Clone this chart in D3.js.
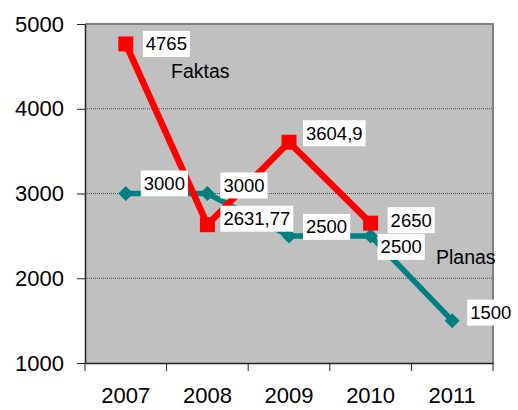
<!DOCTYPE html>
<html>
<head>
<meta charset="utf-8">
<script src="https://cdn.jsdelivr.net/npm/d3@7"></script>
<style>
  html, body { margin: 0; padding: 0; background: #fff; }
  svg { display: block; font-family: "Liberation Sans", Arial, sans-serif; }
</style>
</head>
<body>
<svg id="chart" width="518" height="410"></svg>
<script>
// Years on the x axis
const years = ["2007", "2008", "2009", "2010", "2011"];
// Actual values (Faktas) – no value yet for 2011
const faktas = [4765, 2631.77, 3604.9, 2650, null];
// Planned values (Planas)
const planas = [3000, 3000, 2500, 2500, 1500];
// Y axis ticks
const yTicks = [1000, 2000, 3000, 4000, 5000];

// Label placement relative to each point (dx, dy of the label's left-middle)
const faktasLabelOffset = [[17, 0], [13, -6], [14, -9], [17, -3], null];
const planasLabelOffset = [[15, -10], [13, -8], [14, -9], [7, 11], [15, -8]];

const fmt = v => String(v).replace(".", ",");

const svg = d3.select("#chart");
const plot = { left: 85, right: 493, top: 24, bottom: 363 };

const x = d3.scaleBand().domain(years).range([plot.left, plot.right]);
const y = d3.scaleLinear().domain([1000, 5000]).range([plot.bottom, plot.top]);
const cx = d => x(d) + x.bandwidth() / 2;

// Plot background
svg.append("rect")
  .attr("x", plot.left).attr("y", plot.top)
  .attr("width", plot.right - plot.left).attr("height", plot.bottom - plot.top)
  .attr("fill", "#c0c0c0");

// Gridlines
svg.append("g").selectAll("line")
  .data(yTicks.filter(t => t > 1000 && t < 5000))
  .join("line")
  .attr("x1", plot.left).attr("x2", plot.right)
  .attr("y1", d => y(d)).attr("y2", d => y(d))
  .attr("stroke", "#555").attr("stroke-width", 1)
  .attr("stroke-dasharray", "1,1");

// Top and right frame
svg.append("path")
  .attr("d", `M${plot.left},${plot.top}H${plot.right}V${plot.bottom}`)
  .attr("fill", "none").attr("stroke", "#808080").attr("stroke-width", 2);

// Y axis
const yAxis = svg.append("g")
  .attr("transform", `translate(${plot.left},0)`)
  .call(d3.axisLeft(y).tickValues(yTicks).tickFormat(d3.format("d"))
    .tickSize(8).tickPadding(13).tickSizeOuter(0));
yAxis.select(".domain").attr("stroke", "#222").attr("stroke-width", 1.5);
yAxis.selectAll(".tick line").attr("stroke", "#222");
yAxis.selectAll("text").attr("font-size", 22).attr("fill", "#000")
  .attr("font-family", "'Liberation Sans', Arial, sans-serif");

// X axis with ticks at band boundaries
const xAxis = svg.append("g")
  .attr("transform", `translate(0,${plot.bottom})`)
  .call(d3.axisBottom(x).tickSize(0).tickPadding(24));
xAxis.select(".domain").attr("stroke", "#222").attr("stroke-width", 1.5);
xAxis.selectAll("text").attr("font-size", 22).attr("fill", "#000")
  .attr("font-family", "'Liberation Sans', Arial, sans-serif");
svg.append("g").selectAll("line")
  .data(years.concat(["end"]))
  .join("line")
  .attr("x1", (d, i) => plot.left + i * x.bandwidth())
  .attr("x2", (d, i) => plot.left + i * x.bandwidth())
  .attr("y1", plot.bottom).attr("y2", plot.bottom + 8)
  .attr("stroke", "#222");

// Planas line
const planasPts = years.map((d, i) => ({ year: d, v: planas[i] }));
svg.append("path")
  .datum(planasPts)
  .attr("d", d3.line().x(d => cx(d.year)).y(d => y(d.v)))
  .attr("fill", "none").attr("stroke", "#008080").attr("stroke-width", 5.5)
  .attr("stroke-linejoin", "round");
svg.append("g").selectAll("path")
  .data(planasPts)
  .join("path")
  .attr("transform", d => `translate(${cx(d.year)},${y(d.v)})`)
  .attr("d", "M0,-7.5L7.5,0L0,7.5L-7.5,0Z")
  .attr("fill", "#008080");

// Faktas line
const faktasPts = years.map((d, i) => ({ year: d, v: faktas[i] })).filter(d => d.v != null);
svg.append("path")
  .datum(faktasPts)
  .attr("d", d3.line().x(d => cx(d.year)).y(d => y(d.v)))
  .attr("fill", "none").attr("stroke", "#ff0000").attr("stroke-width", 6.5)
  .attr("stroke-linejoin", "miter");
svg.append("g").selectAll("rect")
  .data(faktasPts)
  .join("rect")
  .attr("x", d => cx(d.year) - 7.5).attr("y", d => y(d.v) - 7.5)
  .attr("width", 15).attr("height", 15)
  .attr("fill", "#ff0000");

// Value labels on white boxes
function drawLabels(values, offsets) {
  const g = svg.append("g");
  values.forEach((v, i) => {
    if (v == null) return;
    const px = cx(years[i]) + offsets[i][0];
    const py = y(v) + offsets[i][1];
    const lg = g.append("g");
    const t = lg.append("text")
      .attr("x", px + 3).attr("y", py)
      .attr("dy", "0.35em")
      .attr("font-size", 18.5).attr("fill", "#000")
      .text(fmt(v));
    const bb = t.node().getBBox();
    lg.insert("rect", "text")
      .attr("x", bb.x - 3).attr("y", py - 13)
      .attr("width", bb.width + 6).attr("height", 26)
      .attr("fill", "#fff");
  });
}
drawLabels(faktas, faktasLabelOffset);
drawLabels(planas, planasLabelOffset);

// Series names
svg.append("text").attr("x", 171).attr("y", 71).attr("dy", "0.35em")
  .attr("font-size", 19.5).attr("fill", "#000").text("Faktas");
svg.append("text").attr("x", 436).attr("y", 257).attr("dy", "0.35em")
  .attr("font-size", 19.5).attr("fill", "#000").text("Planas");
</script>
</body>
</html>
